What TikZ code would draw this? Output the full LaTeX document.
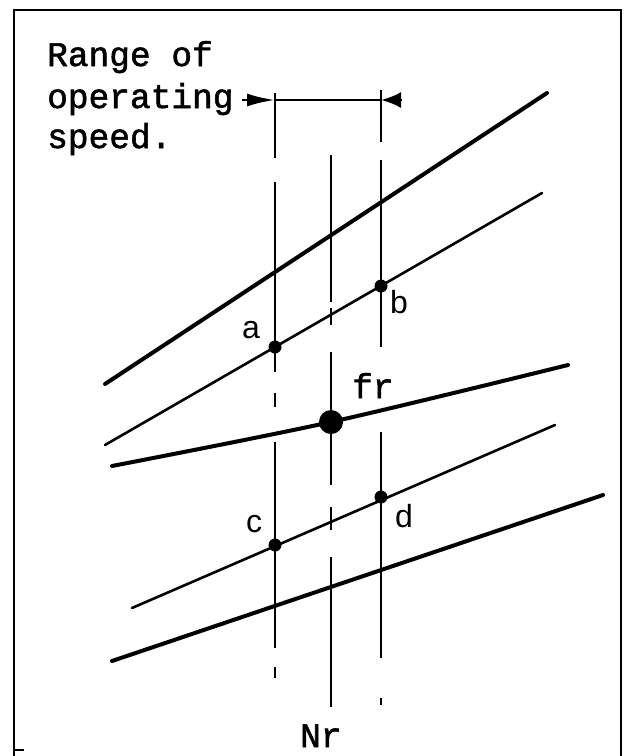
\documentclass[tikz,border=0pt]{standalone}
\usepackage{fontspec}
\setmainfont{Liberation Mono}[BoldFont=Liberation Mono, BoldFeatures={FakeBold=1.6}]
\newfontfamily\lblfont{Liberation Sans}
\usetikzlibrary{arrows.meta}

\tikzset{
  thinline/.style={line width=2.6pt, line cap=round},
  thickline/.style={line width=4pt, line cap=round},
  guide/.style={line width=2.6pt},
  spot/.style={fill=black},
  lbl/.style={font=\lblfont\fontsize{32}{32}\selectfont, anchor=base, inner sep=0pt},
  txt/.style={font=\bfseries\fontsize{34.5}{41}\selectfont, anchor=base west, inner sep=0pt},
}

\begin{document}
\begin{tikzpicture}[x=1pt,y=-1pt]
\useasboundingbox (0,0) rectangle (624,756);
% frame
\draw[line width=2.6pt] (14,756) -- (14,10) -- (621,10) -- (621,756);
\draw[line width=2pt] (14,750) -- (24,750);

% heading text
\node[txt] (t1) at (47,66) {Range of};
\node[txt] (t2) at (47,108) {operating};
\node[txt] (t3) at (47,148) {speed.};

% range of speed
\coordinate (ra) at (242,100);
\coordinate (rl) at (275,100);
\coordinate (rr) at (381,100);
\coordinate (rb) at (402,100);
\draw[guide, -{Latex[length=28pt,width=13pt]}] (ra) -- (rl);
\draw[guide] (rl) -- (rr);
\draw[guide, -{Latex[length=20pt,width=16pt]}] (rb) -- (rr);

% broken verticals
\foreach \s/\e in {93/158,182/372,393/407,442/648,667/678}
  \draw[guide] (275,\s) -- (275,\e);
\foreach \s/\e in {155/302,308/325,352/485,507/530,557/707}
  \draw[guide] (331,\s) -- (331,\e);
\foreach \s/\e in {90/142,160/347,432/658,698/705}
  \draw[guide] (381,\s) -- (381,\e);

% characteristic lines
\draw[thickline] (105,384) -- (547,93);
\draw[thinline] (105,445) -- (542,193);
\draw[thickline] plot[smooth] coordinates {(112,466) (331,422) (568,365)};
\draw[thinline] (132,608) -- (555,425);
\draw[thickline] (112,661) -- (603,495);

% operating points
\coordinate (a) at (275,347);
\coordinate (b) at (381,286);
\coordinate (c) at (275,545);
\coordinate (d) at (381,497);
\coordinate (fr) at (331,422);
\foreach \p in {a,b,c,d}
  \fill[spot] (\p) circle[radius=6.5pt];
\fill[spot] (fr) circle[radius=12pt];

\node[lbl] (la) at (251,338) {a};
\node[lbl] (lb) at (399,313) {b};
\node[lbl] (lc) at (254,532) {c};
\node[lbl] (ld) at (404,527) {d};
\node[txt] (lfr) at (352,398) {fr};
\node[txt] (lnr) at (300,747) {Nr};
\end{tikzpicture}
\end{document}
